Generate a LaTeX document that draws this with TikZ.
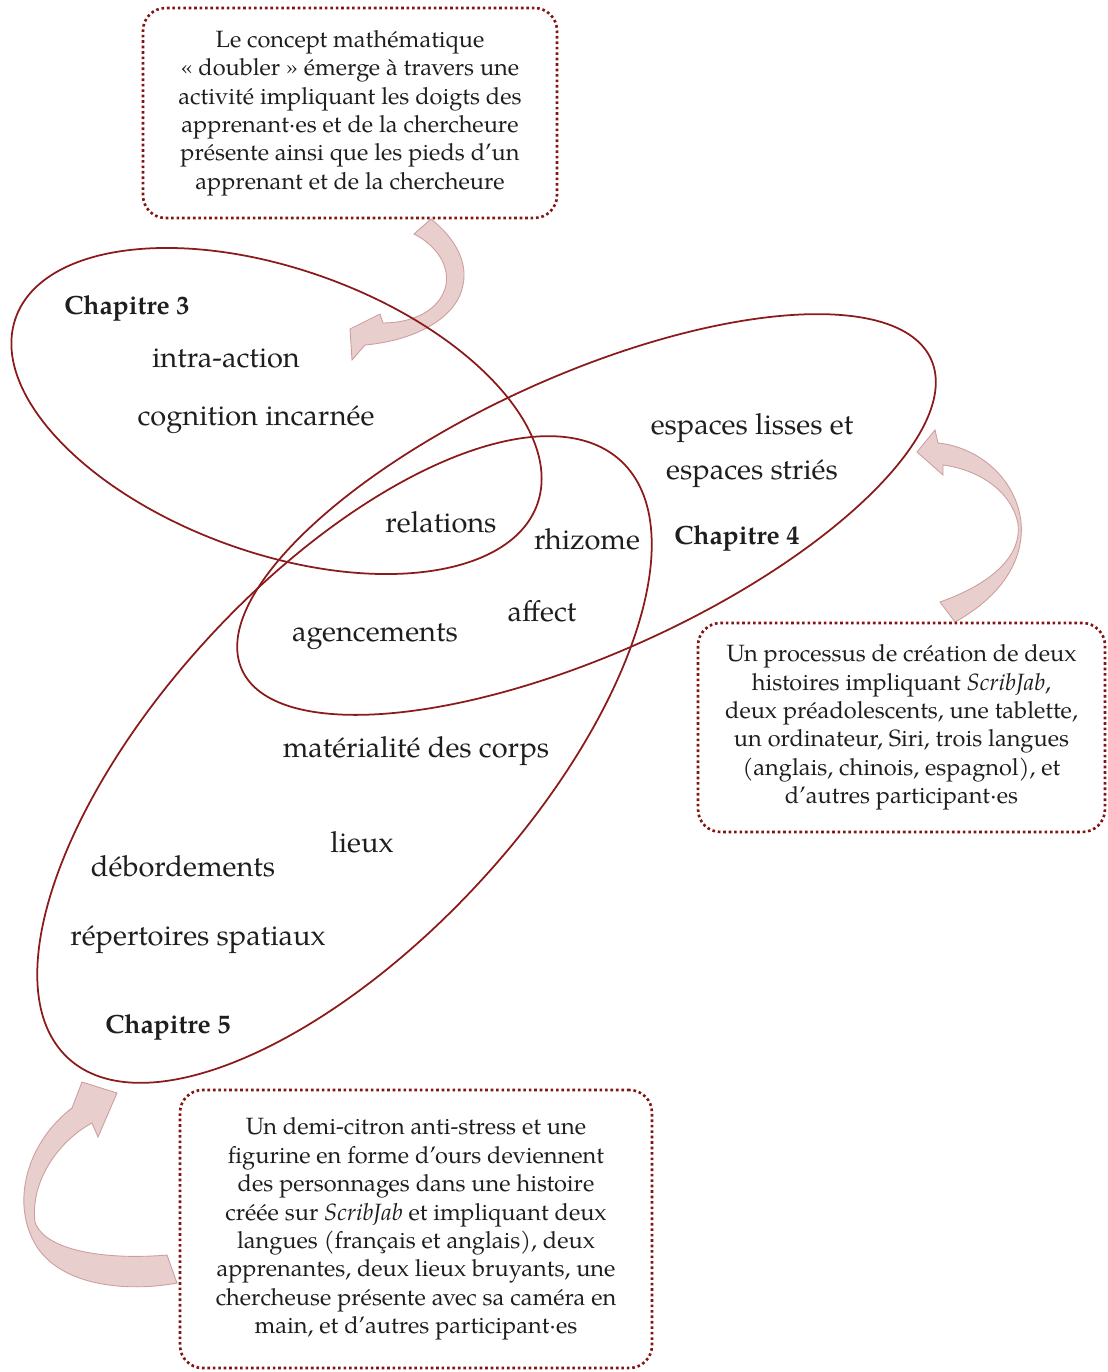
\documentclass[tikz,border=0pt]{standalone}
\usepackage{fontspec}
\setmainfont{TeX Gyre Pagella}
\definecolor{ringred}{RGB}{139,26,26}
\definecolor{dotred}{RGB}{130,20,20}
\definecolor{ribbonfill}{RGB}{233,206,206}
\definecolor{ribbonline}{RGB}{206,158,158}
\definecolor{ink}{RGB}{30,30,30}

\begin{document}
\begin{tikzpicture}[x=0.02cm, y=-0.02cm,
    concept/.style={text=ink, font=\fontsize{16.5}{20}\selectfont},
    chapter/.style={text=ink, font=\fontsize{15}{18}\selectfont\bfseries},
    notebox/.style={draw=dotred, line width=1.5pt, dash pattern=on 1.5pt off 1.6pt, rounded corners=0.45cm,
        align=center, text=ink, font=\fontsize{13.4}{16.2}\selectfont, inner sep=0pt},
    ribbon/.style={fill=ribbonfill, draw=ribbonline, line width=0.5pt},
    chapring/.style={draw=ringred, line width=1pt}]

    \useasboundingbox (0,0) rectangle (1107,1372);

    % Curved arrows
    \filldraw[ribbon] (431,219) .. controls (455,238) and (468,262) .. (463,285)
        .. controls (458,315) and (420,340) .. (365,345)
        -- (352,360) -- (350,329) -- (380,314) -- (383,323)
        .. controls (410,323) and (440,312) .. (446,285)
        .. controls (450,262) and (432,243) .. (414,234) -- cycle;
    \filldraw[ribbon] (955,622) .. controls (995,600) and (1025,565) .. (1021,522)
        .. controls (1016,478) and (978,447) .. (938,443)
        -- (935,430) -- (917,452) -- (943,475) -- (943,465)
        .. controls (980,470) and (1012,492) .. (1018,524)
        .. controls (1022,558) and (988,585) .. (940,602) -- cycle;
    \filldraw[ribbon] (177,1283) .. controls (130,1292) and (55,1288) .. (32,1238)
        .. controls (12,1195) and (30,1140) .. (72,1108)
        -- (82,1082) -- (117,1093) -- (98,1137) -- (92,1123)
        .. controls (60,1140) and (30,1180) .. (35,1222)
        .. controls (45,1252) and (110,1260) .. (167,1255) -- cycle;

    % Chapter ellipses
    \draw[chapring, rotate around={-19.7:(276.5,411)}] (276.5,411) ellipse [x radius=5.54cm, y radius=2.84cm];
    \draw[chapring, rotate around={24.25:(586.5,514.5)}] (586.5,514.5) ellipse [x radius=7.56cm, y radius=2.78cm];
    \draw[chapring, rotate around={47.2:(344.5,759.5)}] (344.5,759.5) ellipse [x radius=8.14cm, y radius=3.65cm];

    % Chapter titles
    \node[chapter] (chap3) at (127,308) {Chapitre 3};
    \node[chapter] (chap4) at (737,538) {Chapitre 4};
    \node[chapter] (chap5) at (168,1027) {Chapitre 5};

    % Concepts
    \foreach \id/\px/\py/\txt in {intra/226/358/intra-action, cognition/256/420/cognition incarnée,
        relations/441/522/relations, rhizome/587/539/rhizome, affect/542/611/affect,
        agencements/375/637/agencements, materialite/416/751/matérialité des corps,
        lieux/362/842/lieux, debordements/183/866/débordements, repertoires/198/940/répertoires spatiaux} {
        \node[concept] (\id) at (\px,\py) {\txt};
    }
    \node[concept, align=center, font=\fontsize{16.5}{25.6}\selectfont] (espaces) at (752,451)
        {espaces lisses et\\espaces striés};

    % Notes
    \node[notebox, minimum width=8.28cm, minimum height=4.2cm] (note3) at (350,113) {
        Le concept mathématique\\
        « doubler » émerge à travers une\\
        activité impliquant les doigts des\\
        apprenant·es et de la chercheure\\
        présente ainsi que les pieds d’un\\
        apprenant et de la chercheure};
    \node[notebox, minimum width=8.14cm, minimum height=4.18cm] (note4) at (901.5,727.5) {
        Un processus de création de deux\\
        histoires impliquant \textit{ScribJab},\\
        deux préadolescents, une tablette,\\
        un ordinateur, Siri, trois langues\\
        (anglais, chinois, espagnol), et\\
        d’autres participant·es};
    \node[notebox, minimum width=9.44cm, minimum height=5.56cm] (note5) at (416,1229) {
        Un demi-citron anti-stress et une\\
        figurine en forme d’ours deviennent\\
        des personnages dans une histoire\\
        créée sur \textit{ScribJab} et impliquant deux\\
        langues (français et anglais), deux\\
        apprenantes, deux lieux bruyants, une\\
        chercheuse présente avec sa caméra en\\
        main, et d’autres participant·es};
\end{tikzpicture}
\end{document}
